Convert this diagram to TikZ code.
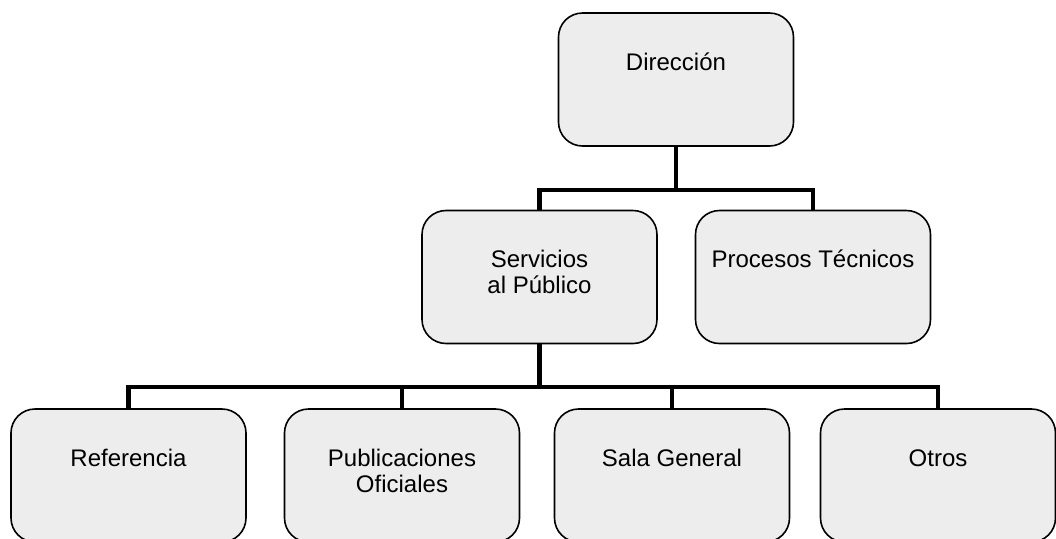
\documentclass[tikz,border=0pt]{standalone}
\usepackage{fontspec}
\setmainfont{Liberation Sans}
\usetikzlibrary{positioning}

\tikzset{
	unit/.style={draw=black, line width=0.8pt, rounded corners=12pt, fill=black!7, minimum width=117.5pt, minimum height=66.5pt, inner sep=0pt},
	lbl/.style={anchor=base, align=center, inner sep=0pt, font=\fontsize{12}{13}\selectfont},
	twolines/.style={yshift=-13pt},
	conn/.style={line width=2.4pt, line join=miter},
}

\begin{document}
\begin{tikzpicture}[x=0.5pt, y=-0.5pt]
		\useasboundingbox (0, 0) rectangle (1056, 538);
		% boxes
		\node[unit] (dir) at (676, 79.5) {};
		\node[unit] (serv) at (539.5, 277) {};
		\node[unit] (proc) at (813, 277) {};
		\node[unit] (ref) at (128.5, 475.5) {};
		\node[unit] (pub) at (402, 475.5) {};
		\node[unit] (sala) at (672, 475.5) {};
		\node[unit] (otros) at (938, 475.5) {};
		% labels
		\node[lbl] (dir-t) at ([yshift=-29pt]dir.north) {Dirección};
		\node[lbl, twolines] (serv-t) at ([yshift=-29pt]serv.north) {Servicios\\al Público};
		\node[lbl] (proc-t) at ([yshift=-29pt]proc.north) {Procesos Técnicos};
		\node[lbl] (ref-t) at ([yshift=-29pt]ref.north) {Referencia};
		\node[lbl, twolines] (pub-t) at ([yshift=-29pt]pub.north) {Publicaciones\\Oficiales};
		\node[lbl] (sala-t) at ([yshift=-29pt]sala.north) {Sala General};
		\node[lbl] (otros-t) at ([yshift=-29pt]otros.north) {Otros};
		% connectors
		\coordinate (bar1) at (676, 190);
		\coordinate (bar2) at (539.5, 387);
		\draw[conn] (dir.south) -- (bar1);
		\draw[conn] (serv.north) |- (bar1) -| (proc.north);
		\draw[conn] (serv.south) -- (bar2);
		\draw[conn] (ref.north) |- (bar2) -| (otros.north);
		\draw[conn] (pub.north) -- (pub.north |- bar2);
		\draw[conn] (sala.north) -- (sala.north |- bar2);
	\end{tikzpicture}
\end{document}
